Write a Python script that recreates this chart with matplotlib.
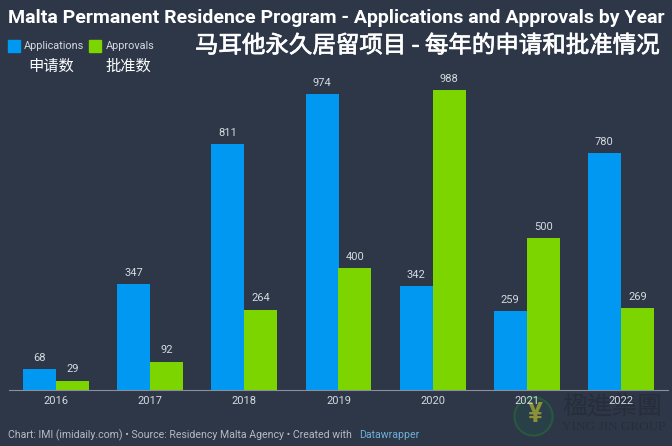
import matplotlib
matplotlib.use('Agg')
import matplotlib.pyplot as plt
import matplotlib.patheffects as pe
import numpy as np
from matplotlib.patches import Rectangle

years = ['2016', '2017', '2018', '2019', '2020', '2021', '2022']
applications = [68, 347, 811, 974, 342, 259, 780]
approvals = [29, 92, 264, 400, 988, 500, 269]

BG = '#2d3748'
BLUE = '#0098f1'
GREEN = '#7dd500'
TEXT = '#d6dae0'

plt.rcParams['font.family'] = ['Roboto', 'Noto Sans CJK SC', 'DejaVu Sans']

W, H = 672, 446
fig = plt.figure(figsize=(W / 100, H / 100), dpi=100, facecolor=BG)
ax = fig.add_axes([9 / W, (H - 389.5) / H, 659 / W, 329.5 / H], facecolor='none', zorder=5)


def px_text(x, y, s, **kw):
    fig.text(x / W, 1 - y / H, s, va='center', **kw)


x = np.arange(len(years))
bw = 0.35
ax.bar(x - bw / 2, applications, bw, color=BLUE)
ax.bar(x + bw / 2, approvals, bw, color=GREEN)

for i in x:
    ax.annotate(str(applications[i]), (i - bw / 2, applications[i]), xytext=(0, 4.5),
                textcoords='offset points', ha='center', va='bottom', color=TEXT, fontsize=8)
    ax.annotate(str(approvals[i]), (i + bw / 2, approvals[i]), xytext=(0, 4.5),
                textcoords='offset points', ha='center', va='bottom', color=TEXT, fontsize=8)

ax.set_xlim(-0.5, 6.5)
ax.set_ylim(0, 329.5 / 0.303)
ax.set_xticks(x, years)
ax.tick_params(axis='x', length=0, pad=5, labelsize=8, colors=TEXT)
ax.set_yticks([])
for s in ['top', 'left', 'right']:
    ax.spines[s].set_visible(False)
ax.spines['bottom'].set_color('#8a919c')
ax.spines['bottom'].set_linewidth(0.8)

# title and subtitle
px_text(8, 18, 'Malta Permanent Residence Program - Applications and Approvals by Year',
        color='white', fontsize=14, fontweight='bold')
px_text(195, 46, '马耳他永久居留项目 - 每年的申请和批准情况', color='white', fontsize=16.9,
        family=['Noto Sans CJK SC', 'DejaVu Sans'],
        path_effects=[pe.withStroke(linewidth=0.5, foreground='white')])

# legend
fig.add_artist(Rectangle((8 / W, 1 - 52 / H), 12 / W, 12 / H, transform=fig.transFigure, color=BLUE))
fig.add_artist(Rectangle((89 / W, 1 - 52 / H), 12 / W, 12 / H, transform=fig.transFigure, color=GREEN))
px_text(24, 46, 'Applications', color=TEXT, fontsize=7.8)
px_text(106, 46, 'Approvals', color=TEXT, fontsize=7.8)
px_text(28, 67, '申请数', color='white', fontsize=11)
px_text(106, 67, '批准数', color='white', fontsize=11)

# footer
px_text(8, 435, 'Chart: IMI (imidaily.com) • Source: Residency Malta Agency • Created with',
        color='#b4bac3', fontsize=7.6)
px_text(359, 435, 'Datawrapper', color='#6fb0d8', fontsize=7.6)

# watermark
fig.add_artist(plt.Line2D([532.5 / W], [1 - 415.5 / H], transform=fig.transFigure, marker='o', ms=27.5,
                          mfc='#2a4048', mec='#27593f', mew=1.5))
px_text(535, 415, '¥', color='#8c9138', fontsize=20, fontweight='bold', ha='center')
px_text(562, 406, '楹進集團', color='#272e3a', fontsize=18, family=['Noto Sans CJK TC', 'DejaVu Sans'])
px_text(562, 427, 'YING JIN GROUP', color='#272e3a', fontsize=9.5, family=['Liberation Serif'])

fig.savefig('out.png', dpi=100, facecolor=BG)
